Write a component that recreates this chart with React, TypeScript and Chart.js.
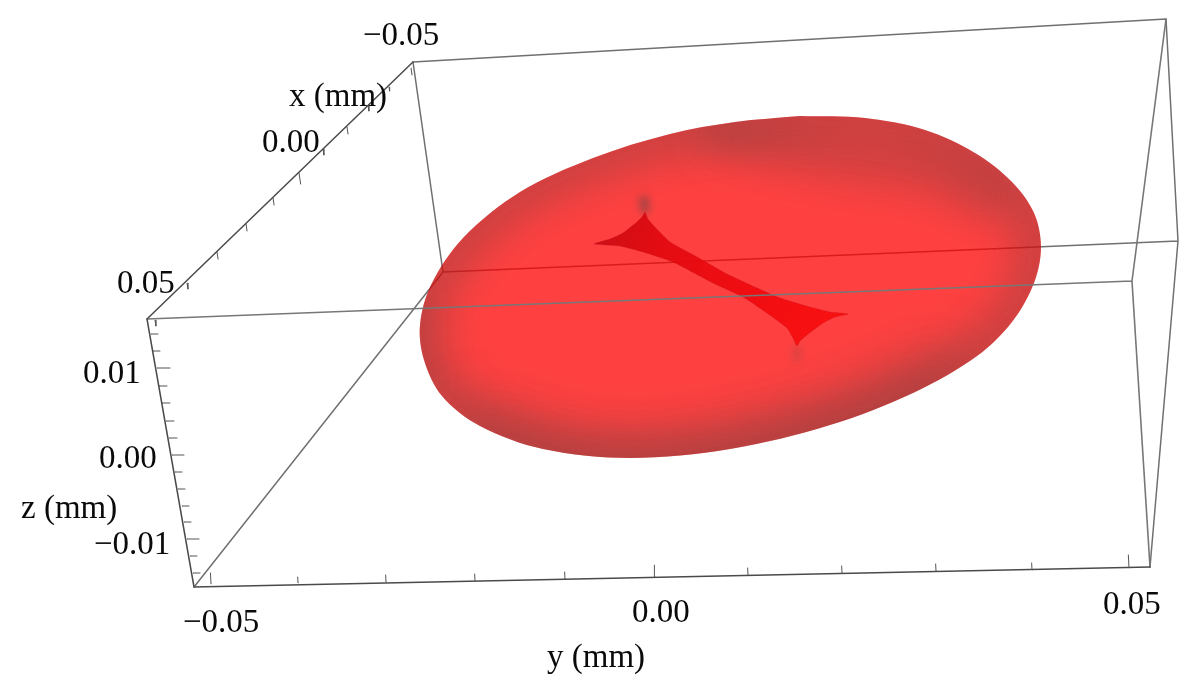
import React, { useEffect, useRef } from "react";
import { Chart, registerables } from "chart.js";

Chart.register(...registerables);

type P = [number, number];

// Picture-plane readings of the projected 3D box (the plot has no 2D axes).
const backEdges: P[][] = [
  [[413, 62], [1166, 19]],
  [[413, 62], [443, 272]],
  [[443, 272], [1178, 241]],
  [[443, 272], [194, 587]],
  [[1166, 19], [1178, 241]],
  [[1178, 241], [1150, 567]],
];
const frontEdges: P[][] = [
  [[147, 319], [1132, 281]],
  [[1166, 19], [1132, 281]],
  [[1132, 281], [1150, 567]],
];
const axisEdges: P[][] = [
  [[147, 319], [413, 62]],
  [[147, 319], [194, 587]],
  [[194, 587], [1150, 567]],
];

// Tick marks: foot on the axis and tick length
const xTickFeet: P[] = [[155, 320], [187, 283], [217, 252], [246, 224], [273, 198], [299, 173], [323, 149], [347, 127], [368, 105], [389, 87], [411, 68]];
const xTickLengths = [6, 6, 7, 7, 7, 11, 6, 7, 6, 4, 7];
const yTickFeet: P[] = [[211, 584], [298, 583], [386, 582], [475, 581], [565, 579], [655, 577], [748, 575], [842, 573], [936, 571], [1032, 570], [1129, 568]];
const yTickLengths = [11, 6, 7, 7, 7, 12, 7, 7, 7, 7, 13];
const zTickFeet: P[] = [[151, 334], [153, 351], [157, 368], [159, 386], [162, 403], [166, 421], [169, 438], [172, 455], [175, 472], [178, 489], [182, 506], [184, 522], [187, 539], [190, 556], [193, 573]];
const zTickLengths = [7, 7, 13, 8, 8, 8, 8, 12, 7, 7, 7, 7, 12, 7, 7];

// Outer surface silhouette
const surfaceOutline: P[] = [
  [800, 116], [735, 122], [670, 134], [593, 158], [520, 192], [463, 238], [431, 285], [420, 325], [424, 360], [442, 396],
  [480, 426], [543, 449], [630, 458], [730, 449], [830, 425], [913, 393], [977, 356], [1012, 322], [1034, 283], [1041, 247],
  [1034, 213], [1012, 182], [975, 153], [925, 130], [865, 118], [800, 116],
];

// Inner four-cusped surface
const innerOutline: P[] = [
  [645, 212], [648, 219], [653, 225], [670, 242], [697, 257], [727, 274], [757, 288], [780, 298], [810, 307], [830, 312],
  [848, 314], [835, 317], [823, 323], [807, 335], [800, 341], [797, 346], [793, 338], [787, 328], [767, 313], [743, 297],
  [713, 283], [673, 262], [643, 252], [620, 246], [594, 244], [610, 239], [623, 233], [637, 222], [642, 217], [645, 212],
];

// Shaded regions on the surface
const bottomShade: P[] = [[480, 440], [560, 470], [650, 478], [760, 458], [860, 425], [940, 385]];
const leftShade: P[] = [[415, 300], [412, 345], [425, 390]];
const topShade: P[] = [[720, 135], [790, 150], [860, 163], [930, 172], [990, 200]];
const upperCuspShade: P[] = [[644, 200], [645, 209]];
const lowerCuspShade: P[] = [[797, 349], [797, 358]];

// Text
const xTickLabels = ["\u22120.05", "0.00", "0.05"];
const xLabelAnchors: P[] = [[363, 45], [262, 152], [117, 293]];
const yTickLabels = ["\u22120.05", "0.00", "0.05"];
const yLabelAnchors: P[] = [[183, 632], [632, 622], [1103, 614]];
const zTickLabels = ["0.01", "0.00", "\u22120.01"];
const zLabelAnchors: P[] = [[83, 383], [99, 468], [94, 554]];
const axisTitles = ["x (mm)", "y (mm)", "z (mm)"];
const titleAnchors: P[] = [[289, 106], [547, 667], [21, 518]];

const pts = (a: P[]) => a.map(([x, y]) => ({ x, y }));
const joined = (parts: P[][]) => {
  const out: any[] = [];
  parts.forEach((p, i) => {
    if (i) out.push({ x: NaN, y: NaN });
    out.push(...pts(p));
  });
  return out;
};
const ticks = (feet: P[], lens: number[], dx: number, dy: number) =>
  joined(feet.map(([x, y], i) => [[x, y], [x + dx * lens[i], y + dy * lens[i]]] as P[]));

const line = (data: any[], color: string, width: number, extra: any = {}) => ({
  data,
  borderColor: color,
  borderWidth: width,
  showLine: true,
  pointRadius: 0,
  pointHoverRadius: 0,
  tension: 0,
  spanGaps: false,
  fill: false,
  borderCapStyle: "round",
  ...extra,
});

const shade = (a: P[], color: string, width: number, blur: number) =>
  line(pts(a), color, width, { shadeBlur: blur, tension: 0.33 });

const innerFill = (ctx: any) => {
  const chart = ctx.chart;
  const sx = chart.scales.x;
  const sy = chart.scales.y;
  const fallback = "rgba(235,0,0,0.9)";
  if (!sx || !sy) return fallback;
  const c = [sx.getPixelForValue(600), sy.getPixelForValue(225), sx.getPixelForValue(840), sy.getPixelForValue(330)];
  if (!c.every(Number.isFinite)) return fallback;
  const g = chart.ctx.createLinearGradient(c[0], c[1], c[2], c[3]);
  g.addColorStop(0, "rgba(200,10,18,0.93)");
  g.addColorStop(0.25, "rgba(226,8,14,0.92)");
  g.addColorStop(0.7, "rgba(240,8,12,0.9)");
  g.addColorStop(1, "rgba(250,14,14,0.92)");
  return g;
};

const layers: any[] = [
  line(joined(backEdges), "#707070", 1.5),
  line(pts(surfaceOutline), "rgba(255,0,0,0)", 0, { fill: "shape", backgroundColor: "rgba(255,0,0,0.75)", tension: 0.33, isSurface: true }),
  shade(surfaceOutline, "rgba(64,64,64,0.34)", 40, 22),
  shade(bottomShade, "rgba(64,64,64,0.24)", 70, 30),
  shade(leftShade, "rgba(64,64,64,0.2)", 20, 14),
  shade(topShade, "rgba(64,64,64,0.24)", 40, 20),
  shade(upperCuspShade, "rgba(70,70,70,0.6)", 8, 4),
  shade(lowerCuspShade, "rgba(70,70,70,0.25)", 7, 4),
  line(pts(innerOutline), "rgba(190,10,20,0.4)", 0.7, { fill: "shape", backgroundColor: innerFill, tension: 0.15 }),
  line(joined(frontEdges), "#777777", 1.6),
  line(joined(axisEdges), "#4a4a4a", 1.5),
  line(ticks(xTickFeet, xTickLengths, 0.15, 1), "#555555", 1),
  line(ticks(yTickFeet, yTickLengths, -0.05, -1), "#555555", 1),
  line(ticks(zTickFeet, zTickLengths, 1, 0), "#555555", 1),
];
const surfaceIndex = layers.findIndex((l) => l.isSurface);

const shadingPlugin = {
  id: "surfaceShading",
  beforeDatasetDraw(chart: any, args: any) {
    const ds = chart.data.datasets[args.index];
    if (!ds.shadeBlur) return;
    const ctx = chart.ctx;
    const els = chart.getDatasetMeta(surfaceIndex).data;
    ctx.save();
    ctx.beginPath();
    els.forEach((e: any, i: number) => {
      if (!i) ctx.moveTo(e.x, e.y);
      else {
        const p = els[i - 1];
        ctx.bezierCurveTo(p.cp2x, p.cp2y, e.cp1x, e.cp1y, e.x, e.y);
      }
    });
    ctx.closePath();
    ctx.clip();
    ctx.filter = `blur(${ds.shadeBlur}px)`;
  },
  afterDatasetDraw(chart: any, args: any) {
    if (chart.data.datasets[args.index].shadeBlur) chart.ctx.restore();
  },
};

const textPlugin = {
  id: "plotText",
  afterDatasetsDraw(chart: any) {
    const { ctx, scales } = chart;
    ctx.save();
    ctx.font = '33px "Liberation Serif", serif';
    ctx.fillStyle = "#0a0a0a";
    ctx.textAlign = "left";
    ctx.textBaseline = "alphabetic";
    const put = (labels: string[], at: P[]) =>
      labels.forEach((t, i) =>
        ctx.fillText(t, scales.x.getPixelForValue(at[i][0]), scales.y.getPixelForValue(at[i][1]))
      );
    put(xTickLabels, xLabelAnchors);
    put(yTickLabels, yLabelAnchors);
    put(zTickLabels, zLabelAnchors);
    put(axisTitles, titleAnchors);
    ctx.restore();
  },
};

export default function App() {
  const ref = useRef<HTMLCanvasElement | null>(null);
  useEffect(() => {
    if (!ref.current) return;
    const chart = new Chart(ref.current, {
      type: "scatter",
      data: {
        datasets: layers.map((l, i) => ({ ...l, order: layers.length - i })),
      },
      options: {
        animation: false,
        responsive: false,
        devicePixelRatio: 1,
        layout: { padding: 0 },
        events: [],
        plugins: { legend: { display: false }, tooltip: { enabled: false }, title: { display: false } },
        scales: {
          x: { type: "linear", display: false, min: 0, max: 1200 },
          y: { type: "linear", display: false, min: 0, max: 692, reverse: true },
        },
      },
      plugins: [shadingPlugin, textPlugin],
    } as any);
    return () => chart.destroy();
  }, []);
  return (
    <div style={{ position: "fixed", left: 0, top: 0, width: 1200, height: 692, background: "#ffffff" }}>
      <canvas ref={ref} width={1200} height={692} style={{ display: "block" }} />
    </div>
  );
}
